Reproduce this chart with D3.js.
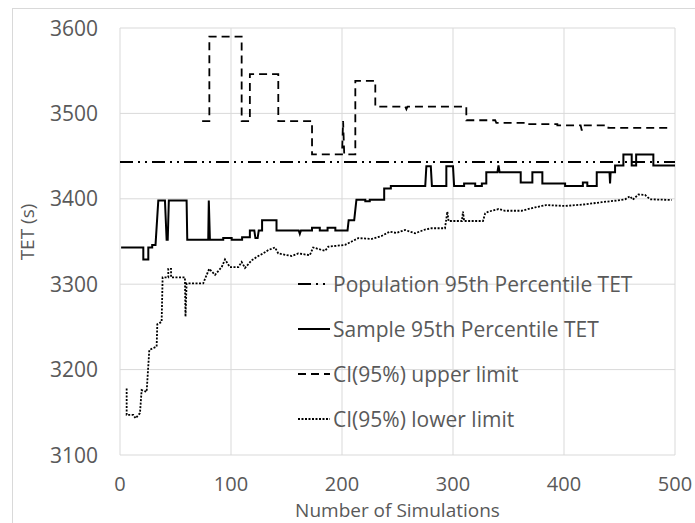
<!DOCTYPE html>
<html>
<head>
<meta charset="utf-8">
<script src="https://cdn.jsdelivr.net/npm/d3@7"></script>
<style>
  body { margin: 0; background: #fff; }
  text { font-family: "Open Sans", "Noto Sans", sans-serif; fill: #595959; }
</style>
</head>
<body>
<div id="chart"></div>
<script>
// chart values: [number of simulations, TET (s)]
let populationData = [[0, 3443], [500, 3443]];

let sampleData = [
  [1, 3343], [21, 3343], [21, 3329], [25.5, 3329], [25.5, 3343], [29, 3343], [29, 3346], [32, 3346],
  [34.5, 3398], [40.5, 3398], [42, 3352], [43, 3352], [44, 3398], [60, 3398], [60.6, 3352],
  [79.5, 3352], [80, 3398], [81, 3352], [93, 3352], [93, 3354], [100.6, 3354], [100.6, 3352],
  [110, 3352], [110, 3355], [117, 3355], [117, 3363], [121, 3363], [122, 3354], [124, 3354],
  [125, 3363], [128, 3363], [128, 3375], [141, 3375], [141, 3363], [161, 3363], [162, 3359],
  [163, 3363], [173, 3363], [173, 3366], [180, 3366], [180, 3363], [187, 3363], [187, 3366],
  [194, 3366], [194, 3363], [205, 3363], [206, 3375], [211, 3375], [213, 3399], [221, 3399],
  [221, 3397], [225, 3397], [225, 3399], [238, 3399], [238, 3412], [244, 3412], [244, 3415],
  [275, 3415], [276, 3438], [280, 3438], [281, 3415], [294, 3415], [294, 3438], [300, 3438],
  [301, 3415], [310, 3415], [310, 3418], [320, 3418], [320, 3415], [326, 3415], [326, 3418],
  [330, 3418], [330, 3431], [340, 3431], [341, 3439], [342, 3431], [361, 3431], [361, 3419],
  [371.5, 3419], [371.5, 3431], [380.5, 3431], [380.5, 3418], [401, 3418], [401, 3415],
  [417, 3415], [417, 3419], [421, 3419], [421, 3415], [429.5, 3415], [429.5, 3431], [441, 3431],
  [441.5, 3418], [442, 3431], [446, 3431], [446, 3439], [453.5, 3439], [453.5, 3452], [461, 3452],
  [461, 3439], [465, 3439], [465, 3452], [480.5, 3452], [480.5, 3439], [500, 3439]
];

let upperData = [
  [74, 3491], [80.5, 3491], [80.5, 3590], [109.6, 3590], [109.6, 3491], [117, 3491], [117, 3546],
  [142.6, 3546], [142.6, 3491], [173, 3491], [173, 3452], [200, 3452], [201, 3491], [202, 3452],
  [212, 3452], [212, 3538], [230, 3538], [230, 3508], [257, 3508], [258, 3505], [259, 3508],
  [312, 3508], [312, 3492], [338, 3492], [339, 3489], [366, 3489], [366, 3487.5], [394, 3487.5],
  [394, 3486], [415, 3486], [416, 3480], [417, 3486], [440, 3486], [440, 3483], [496, 3483]
];

let lowerData = [
  [6, 3178], [6, 3147], [12, 3147], [14, 3143], [18, 3149], [19.5, 3176], [24, 3174], [26.4, 3223],
  [33, 3227], [33.6, 3253], [37.5, 3256], [38.4, 3308], [43.5, 3308], [43.5, 3318], [46, 3318],
  [46, 3308], [58.5, 3308], [59, 3262], [60, 3301], [75, 3301], [76.5, 3306], [80.4, 3318],
  [85.6, 3311], [91.6, 3320], [94.6, 3329], [99, 3320], [106.6, 3320], [109.6, 3326], [112.6, 3319],
  [118.6, 3328], [124.6, 3333], [129, 3336], [133.6, 3340], [139.6, 3343], [142.6, 3336],
  [154.7, 3333], [160.6, 3336], [171, 3334], [174, 3343], [184.7, 3339], [187.7, 3344],
  [202.7, 3346], [208.7, 3350], [214.7, 3354], [226.7, 3353], [235.7, 3356.5], [243, 3361.5],
  [249, 3360], [256.8, 3363.5], [265.8, 3359.6], [274.8, 3364], [280.8, 3365.5], [292.8, 3365.5],
  [294.9, 3385], [296, 3374], [308, 3374], [309, 3385], [310, 3374], [327, 3374], [329, 3383],
  [332, 3385], [341, 3388], [347, 3386], [362, 3386], [374, 3390], [380, 3391.6], [383.8, 3392.7],
  [401, 3391.6], [419, 3393.5], [434, 3396], [447.5, 3398], [455, 3399.4], [459.5, 3403],
  [462, 3399], [467, 3405], [473, 3404.5], [477.5, 3399.4], [497, 3398.6]
];

let xTicks = [0, 100, 200, 300, 400, 500];
let yTicks = [3100, 3200, 3300, 3400, 3500, 3600];
let legendLabels = ["Population 95th Percentile TET", "Sample 95th Percentile TET",
  "CI(95%) upper limit", "CI(95%) lower limit"];

let width = 695;
let height = 523;
let plotLeft = 120, plotTop = 28, plotRight = 675, plotBottom = 455;

let svg = d3.select("#chart").append("svg")
  .attr("width", width)
  .attr("height", height);

// outer chart frame
svg.append("rect")
  .attr("x", 12.5).attr("y", 8.5)
  .attr("width", 720).attr("height", 600)
  .attr("fill", "none").attr("stroke", "#d9d9d9");

let x = d3.scaleLinear().domain([0, 500]).range([plotLeft, plotRight]);
let y = d3.scaleLinear().domain([3100, 3600]).range([plotBottom, plotTop]);

// gridlines
svg.selectAll("xgrid")
  .data(xTicks)
  .enter()
  .append("line")
  .attr("x1", d => x(d)).attr("x2", d => x(d))
  .attr("y1", plotTop).attr("y2", plotBottom)
  .attr("stroke", "#d9d9d9").attr("stroke-width", 1);

svg.selectAll("ygrid")
  .data(yTicks)
  .enter()
  .append("line")
  .attr("x1", plotLeft).attr("x2", plotRight)
  .attr("y1", d => y(d)).attr("y2", d => y(d))
  .attr("stroke", "#d9d9d9").attr("stroke-width", 1);

// tick labels
svg.selectAll("ylabels")
  .data(yTicks)
  .enter()
  .append("text")
  .attr("x", 98)
  .attr("y", d => y(d))
  .attr("dy", "0.36em")
  .attr("text-anchor", "end")
  .style("font-size", "21px")
  .text(d => d);

svg.selectAll("xlabels")
  .data(xTicks)
  .enter()
  .append("text")
  .attr("x", d => x(d))
  .attr("y", 491)
  .attr("text-anchor", "middle")
  .style("font-size", "20px")
  .text(d => d);

// axis titles
svg.append("text")
  .attr("x", (plotLeft + plotRight) / 2)
  .attr("y", 517.3)
  .attr("text-anchor", "middle")
  .style("font-size", "19px")
  .text("Number of Simulations");

svg.append("text")
  .attr("transform", "translate(34, 232) rotate(-90)")
  .attr("text-anchor", "middle")
  .style("font-size", "19px")
  .text("TET (s)");

// series
let line = d3.line()
  .x(d => x(d[0]))
  .y(d => y(d[1]));

let series = [
  { data: populationData, dash: "13,5,2,5,2,5", w: 2 },
  { data: sampleData, dash: null, w: 2 },
  { data: upperData, dash: "8,5", w: 1.8 },
  { data: lowerData, dash: "2,1.5", w: 1.8 }
];

series.forEach(function (s) {
  svg.append("path")
    .datum(s.data)
    .attr("d", line)
    .attr("fill", "none")
    .attr("stroke", "#000")
    .attr("stroke-width", s.w)
    .attr("stroke-dasharray", s.dash);
});

// legend
let legendY = [284, 329, 374, 419];

svg.selectAll("legend_lines")
  .data(series)
  .enter()
  .append("line")
  .attr("x1", 298).attr("x2", 330)
  .attr("y1", (d, i) => legendY[i]).attr("y2", (d, i) => legendY[i])
  .attr("stroke", "#000")
  .attr("stroke-width", d => d.w)
  .attr("stroke-dasharray", d => d.dash);

svg.selectAll("legend_labels")
  .data(legendLabels)
  .enter()
  .append("text")
  .attr("x", 333)
  .attr("y", (d, i) => legendY[i])
  .attr("dy", "0.36em")
  .style("font-size", "21px")
  .text(d => d);
</script>
</body>
</html>
